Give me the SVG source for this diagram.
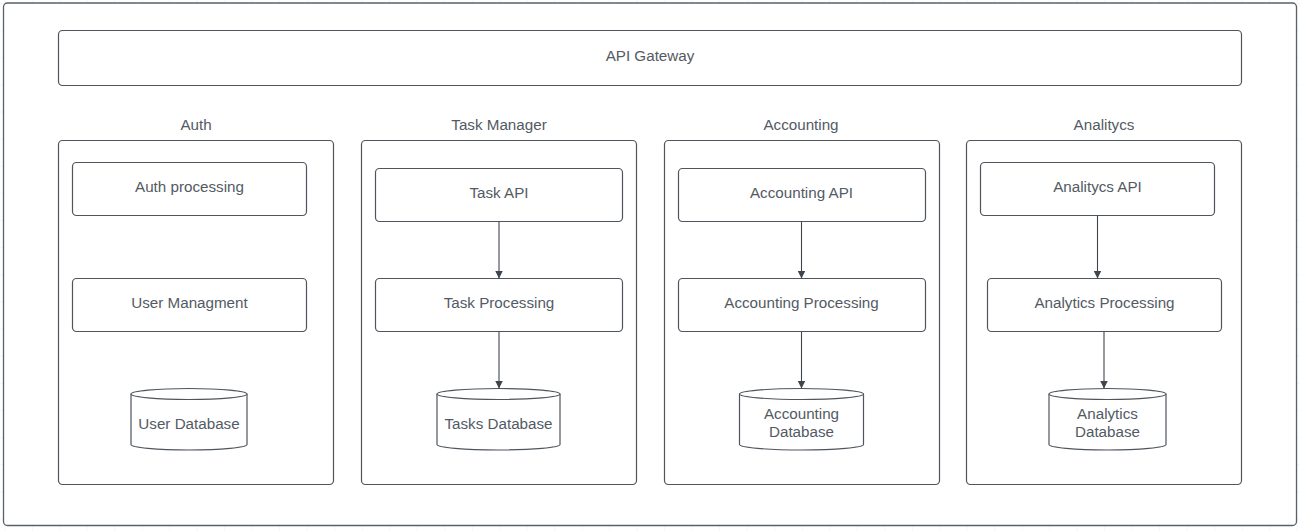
<svg xmlns="http://www.w3.org/2000/svg" width="1300" height="531" viewBox="0 0 1300 531">
<defs>
<pattern id="grid" x="4.2" y="3" width="27.5" height="27.13" patternUnits="userSpaceOnUse">
<path d="M0 0V27.13M0 0H27.5" fill="none" stroke="#ececec" stroke-width="1"/>
</pattern>
<marker id="arr" viewBox="0 0 10 10" refX="10" refY="5" markerWidth="8" markerHeight="10" markerUnits="userSpaceOnUse" orient="auto">
<path d="M0 0L10 5L0 10Z" fill="#3f454d"/>
</marker>
<style>
.box{fill:#fff;stroke:#4f555d;stroke-width:1.2}
.frame{fill:#fff;stroke:#5a6068;stroke-width:1.3}
.t{font-family:"Liberation Sans",Arial,sans-serif;font-size:15.2px;fill:#535a64;text-anchor:middle;dominant-baseline:central}
.c{fill:none;stroke:#3f454d;stroke-width:1.1;marker-end:url(#arr)}
</style>
</defs>
<rect width="1300" height="531" fill="#fff"/>
<rect width="1300" height="531" fill="url(#grid)"/>
<rect id="frame" class="frame" x="3.5" y="3" width="1293" height="522.5" rx="4"/>

<g id="api-gateway">
<rect class="box" x="58.5" y="30.5" width="1183" height="55" rx="4"/>
<text class="t" x="650" y="55">API Gateway</text>
</g>

<g id="auth">
<text class="t" x="196" y="124">Auth</text>
<rect class="box" x="58.5" y="140.5" width="275" height="344" rx="4"/>
</g>
<g id="auth-processing">
<rect class="box" x="72.5" y="162.5" width="234" height="53" rx="4"/>
<text class="t" x="189.5" y="186">Auth processing</text>
</g>
<g id="user-managment">
<rect class="box" x="72.5" y="278.5" width="234" height="53" rx="4"/>
<text class="t" x="189.5" y="302">User Managment</text>
</g>
<g id="user-database">
<path class="box" d="M131 394 A58 5.5 0 0 1 247 394 V444.5 A58 5.5 0 0 1 131 444.5 Z"/>
<path class="box" fill="none" d="M131 394 A58 5.5 0 0 0 247 394"/>
<text class="t" x="189" y="423">User Database</text>
</g>

<g id="task-manager">
<text class="t" x="499" y="124">Task Manager</text>
<rect class="box" x="361.5" y="140.5" width="275" height="344" rx="4"/>
</g>
<g id="task-api">
<rect class="box" x="375.5" y="168.5" width="247" height="53" rx="4"/>
<text class="t" x="499" y="192">Task API</text>
</g>
<g id="task-processing">
<rect class="box" x="375.5" y="278.5" width="247" height="53" rx="4"/>
<text class="t" x="499" y="302">Task Processing</text>
</g>
<g id="tasks-database">
<path class="box" d="M437 394 A61.5 5.5 0 0 1 560 394 V444.5 A61.5 5.5 0 0 1 437 444.5 Z"/>
<path class="box" fill="none" d="M437 394 A61.5 5.5 0 0 0 560 394"/>
<text class="t" x="498.5" y="423">Tasks Database</text>
</g>

<g id="accounting">
<text class="t" x="801" y="124">Accounting</text>
<rect class="box" x="664.5" y="140.5" width="275" height="344" rx="4"/>
</g>
<g id="accounting-api">
<rect class="box" x="678.5" y="168.5" width="247" height="53" rx="4"/>
<text class="t" x="801.5" y="192">Accounting API</text>
</g>
<g id="accounting-processing">
<rect class="box" x="678.5" y="278.5" width="247" height="53" rx="4"/>
<text class="t" x="801.5" y="302">Accounting Processing</text>
</g>
<g id="accounting-database">
<path class="box" d="M739.5 394 A62 5.5 0 0 1 863.5 394 V444.5 A62 5.5 0 0 1 739.5 444.5 Z"/>
<path class="box" fill="none" d="M739.5 394 A62 5.5 0 0 0 863.5 394"/>
<text class="t" x="801.5" y="413">Accounting</text>
<text class="t" x="801.5" y="431">Database</text>
</g>

<g id="analitycs">
<text class="t" x="1104" y="124">Analitycs</text>
<rect class="box" x="966.5" y="140.5" width="275" height="344" rx="4"/>
</g>
<g id="analitycs-api">
<rect class="box" x="980.5" y="162.5" width="234" height="53" rx="4"/>
<text class="t" x="1097.5" y="186">Analitycs API</text>
</g>
<g id="analytics-processing">
<rect class="box" x="987.5" y="278.5" width="234" height="53" rx="4"/>
<text class="t" x="1104.5" y="302">Analytics Processing</text>
</g>
<g id="analytics-database">
<path class="box" d="M1049 394 A58.5 5.5 0 0 1 1166 394 V444.5 A58.5 5.5 0 0 1 1049 444.5 Z"/>
<path class="box" fill="none" d="M1049 394 A58.5 5.5 0 0 0 1166 394"/>
<text class="t" x="1107.5" y="413">Analytics</text>
<text class="t" x="1107.5" y="431">Database</text>
</g>

<g id="connectors">
<path class="c" d="M499 221.5V278.5"/>
<path class="c" d="M499 331.5V388.5"/>
<path class="c" d="M801.5 221.5V278.5"/>
<path class="c" d="M801.5 331.5V388.5"/>
<path class="c" d="M1097.5 215.5V278.5"/>
<path class="c" d="M1104 331.5V388.5"/>
</g>
</svg>
